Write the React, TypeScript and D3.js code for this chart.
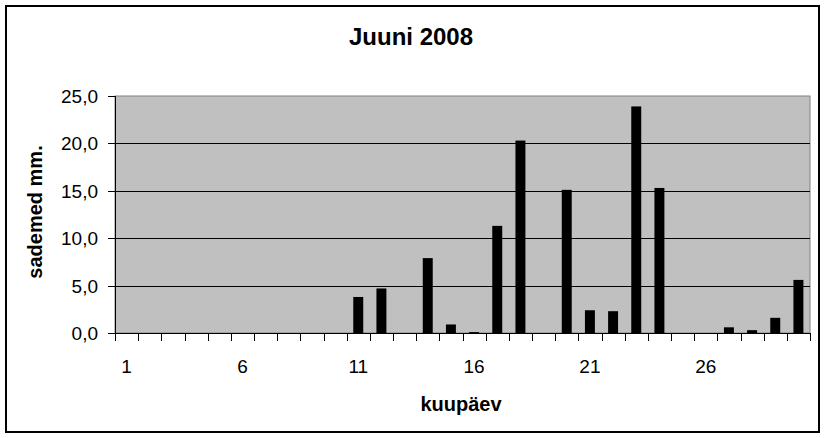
import React from 'react';
import * as d3 from 'd3';

// sademed, juuni 2008 (mm päevas)
const days: number[] = d3.range(1, 31);
const rain: number[] = [
  0, 0, 0, 0, 0, 0, 0, 0, 0, 0,
  3.8, 4.7, 0, 7.9, 0.9, 0.1, 11.3, 20.3, 0, 15.1,
  2.4, 2.3, 23.9, 15.3, 0, 0, 0.6, 0.3, 1.6, 5.6,
];
const yTicks: number[] = [0, 5, 10, 15, 20, 25];
const xLabels: number[] = [1, 6, 11, 16, 21, 26];

const W = 826;
const H = 438;
const plot = { left: 115, right: 810, top: 96, bottom: 333 };
const FONT = 'Arial, "Liberation Sans", sans-serif';

const App: React.FC = () => {
  const x = d3.scaleBand<number>().domain(days).range([plot.left, plot.right]).padding(0);
  const y = d3.scaleLinear().domain([0, 25]).range([plot.bottom, plot.top]);
  const barW = x.bandwidth() * 0.43;
  const fmt = (v: number) => v.toFixed(1).replace('.', ',');

  return (
    <div style={{ position: 'absolute', left: 0, top: 0 }}>
      <svg width={W} height={H} viewBox={`0 0 ${W} ${H}`} style={{ display: 'block', fontFamily: FONT }}>
        <rect x={0} y={0} width={W} height={H} fill="#fff" />
        <rect x={6} y={6} width={813} height={426} fill="#fff" stroke="#000" strokeWidth={2} />

        <text x={411} y={45} textAnchor="middle" fontSize={24} fontWeight="bold">Juuni 2008</text>

        {/* plot area */}
        <rect x={plot.left} y={plot.top} width={plot.right - plot.left} height={plot.bottom - plot.top}
          fill="#c0c0c0" stroke="#808080" strokeWidth={1} />

        {yTicks.filter(t => t > 0 && t < 25).map(t => (
          <line key={t} x1={plot.left} x2={plot.right} y1={Math.round(y(t)) + 0.5} y2={Math.round(y(t)) + 0.5}
            stroke="#000" strokeWidth={1} />
        ))}

        {days.map((d, i) => (
          rain[i] > 0 ? (
            <rect key={d} x={(x(d) as number) + (x.bandwidth() - barW) / 2} y={y(rain[i])}
              width={barW} height={plot.bottom - y(rain[i])} fill="#000" />
          ) : null
        ))}

        {/* y axis */}
        <line x1={plot.left + 0.5} x2={plot.left + 0.5} y1={plot.top} y2={plot.bottom} stroke="#000" />
        {yTicks.map(t => (
          <g key={t}>
            <line x1={plot.left - 7} x2={plot.left} y1={Math.round(y(t)) + 0.5} y2={Math.round(y(t)) + 0.5} stroke="#000" />
            <text x={98} y={y(t) + 7} textAnchor="end" fontSize={19}>{fmt(t)}</text>
          </g>
        ))}

        {/* x axis */}
        <line x1={plot.left} x2={plot.right} y1={plot.bottom + 0.5} y2={plot.bottom + 0.5} stroke="#000" />
        {days.concat([31]).map((d, i) => {
          const px = Math.round(plot.left + i * x.step()) + 0.5;
          return <line key={d} x1={px} x2={px} y1={plot.bottom} y2={plot.bottom + 8} stroke="#000" />;
        })}
        {xLabels.map(d => (
          <text key={d} x={(x(d) as number) + x.bandwidth() / 2} y={373} textAnchor="middle" fontSize={19}>{d}</text>
        ))}

        <text x={461} y={411} textAnchor="middle" fontSize={20} fontWeight="bold">kuupäev</text>
        <text transform="translate(42,212) rotate(-90)" textAnchor="middle" fontSize={20} fontWeight="bold">sademed mm.</text>
      </svg>
    </div>
  );
};

export default App;
